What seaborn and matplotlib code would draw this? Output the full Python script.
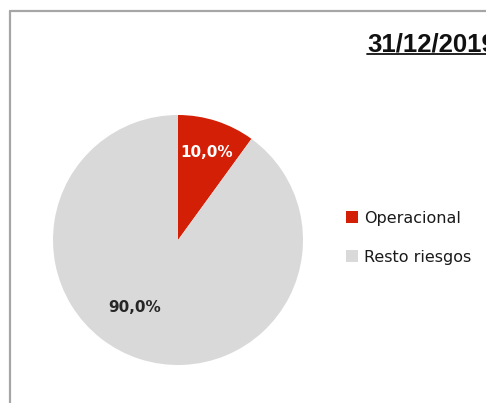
import numpy as np
import matplotlib.pyplot as plt
from matplotlib.lines import Line2D
import seaborn as sns

# data
categories = ['Operacional', 'Resto riesgos']
shares = [10.0, 90.0]
title = '31/12/2019'

colors = ['#d41f07', '#d9d9d9']
textSize = 11

sns.set_theme(style='white')
plt.rcParams['font.family'] = ['DejaVu Sans']

W, H = 486, 403
fig = plt.figure(figsize=(W / 100, H / 100), dpi=100)

# pie axes: centre (178, 240) px, radius 125 px
cx, cy, r = 178, 240, 125
ax = fig.add_axes([(cx - r) / W, (H - cy - r) / H, 2 * r / W, 2 * r / H])
wedges, _ = ax.pie(shares, colors=colors, startangle=90, counterclock=False,
                   radius=1, wedgeprops=dict(linewidth=0))
ax.set_xlim(-1, 1)
ax.set_ylim(-1, 1)
ax.set_aspect('equal')
ax.axis('off')

# percentage labels
labelDist = [0.74, 0.64]
labelShift = [0, -15]   # degrees
labelColor = ['white', '#262626']
for w, v, d, s, c in zip(wedges, shares, labelDist, labelShift, labelColor):
	ang = np.deg2rad((w.theta1 + w.theta2) / 2 + s)
	ax.text(d * np.cos(ang), d * np.sin(ang), ('%.1f%%' % v).replace('.', ','),
	        ha='center', va='center', fontsize=textSize, fontweight='bold', color=c)

# legend
handles = [Line2D([], [], marker='s', ls='', markersize=8, markerfacecolor=c,
                  markeredgewidth=0) for c in colors]
leg = fig.legend(handles, categories, loc='center left', bbox_to_anchor=(339 / W, 1 - 238 / H),
                 frameon=False, fontsize=textSize + 0.5, handlelength=0.8, handletextpad=0.35,
                 labelspacing=1.5, borderaxespad=0)
for txt in leg.get_texts():
	txt.set_color('#1a1a1a')

# title (underlined, clipped at the right edge like the original)
t = fig.text(367 / W, 1 - 51 / H, title, fontsize=18.5, fontweight='bold',
             family='Liberation Sans', ha='left', va='baseline', color='#111111')
fig.canvas.draw()
bb = t.get_window_extent()
fig.add_artist(Line2D([bb.x0 / W, bb.x1 / W], [(H - 54) / H] * 2, color='#111111', lw=1.3))

# chart border
border = '#a6a6a6'
fig.add_artist(Line2D([10 / W, 10 / W], [0, 1 - 11 / H], color=border, lw=1.6))
fig.add_artist(Line2D([10 / W, 1], [1 - 11 / H, 1 - 11 / H], color=border, lw=1.6))

fig.savefig('out.png', dpi=100)
